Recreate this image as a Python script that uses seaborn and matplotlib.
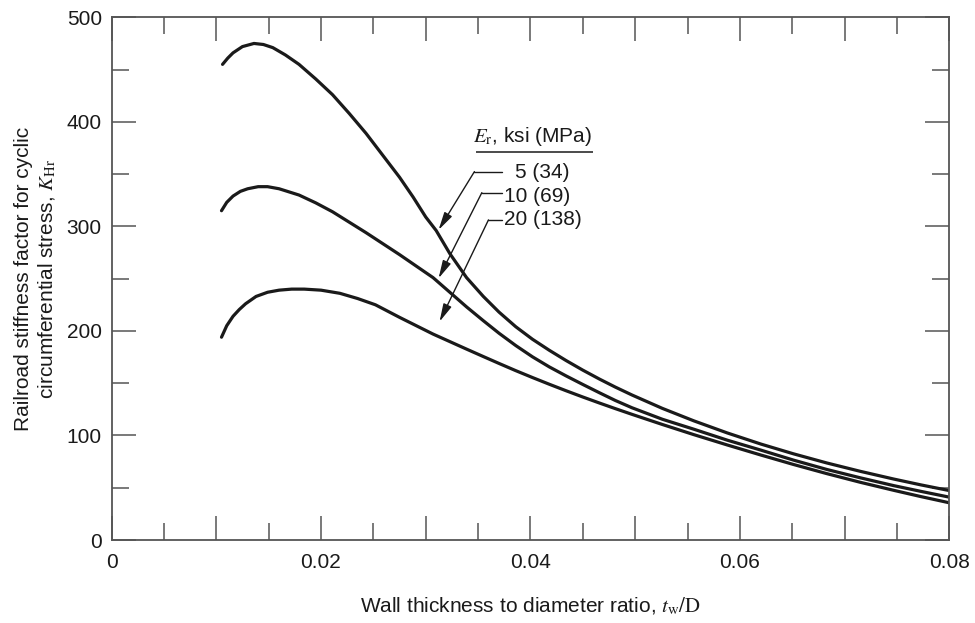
import matplotlib
matplotlib.use("Agg")
import matplotlib.pyplot as plt
from matplotlib.ticker import MultipleLocator, FuncFormatter
import numpy as np
import pandas as pd
import seaborn as sns

# ---------------- data ----------------
series_labels = ["5 (34)", "10 (69)", "20 (138)"]

x5 = [0.0106, 0.0111, 0.0116, 0.0125, 0.0136, 0.0145, 0.0154, 0.0166, 0.0179,
      0.0195, 0.0211, 0.0227, 0.0243, 0.0259, 0.0275, 0.0288, 0.0300, 0.0310,
      0.0323, 0.0339, 0.0355, 0.0370, 0.0386, 0.0402, 0.0418, 0.0434, 0.0450,
      0.0466, 0.0481, 0.0497, 0.0526, 0.0556, 0.0588, 0.0620, 0.0651, 0.0683,
      0.0715, 0.0747, 0.0773, 0.0800]
k5 = [455, 461, 466, 472, 475, 474, 471, 464, 455,
      441, 426, 408, 389, 368, 347, 328, 309, 296,
      274, 251, 233, 218, 204, 192, 181.5, 171.7, 162.5,
      153.9, 146.3, 138.7, 125.9, 114, 102.4, 91.8, 82.5, 73.7,
      65.7, 58.3, 52.7, 47.3]

x10 = [0.0105, 0.0110, 0.0116, 0.0123, 0.0130, 0.0140, 0.0149, 0.0160, 0.0179,
       0.0195, 0.0211, 0.0227, 0.0243, 0.0259, 0.0275, 0.0291, 0.0307, 0.0323,
       0.0339, 0.0355, 0.0370, 0.0386, 0.0402, 0.0418, 0.0434, 0.0450, 0.0466,
       0.0481, 0.0497, 0.0526, 0.0556, 0.0588, 0.0620, 0.0651, 0.0683, 0.0715,
       0.0747, 0.0773, 0.0800]
k10 = [315, 323, 329, 333.5, 336, 338, 338, 336, 330,
       322.5, 314, 304, 294, 283.5, 273, 262, 251, 237,
       223, 209.8, 197.8, 186, 175.2, 165.6, 157, 148.8, 140.8,
       133.5, 126.5, 115.5, 106, 95.5, 86, 76.5, 67.5, 59.5,
       52, 46.5, 41]

x20 = [0.0105, 0.0110, 0.0116, 0.0122, 0.0128, 0.0138, 0.0149, 0.0160, 0.0172,
       0.0184, 0.0200, 0.0218, 0.0235, 0.0252, 0.0275, 0.0291, 0.0307, 0.0323,
       0.0339, 0.0355, 0.0370, 0.0386, 0.0402, 0.0418, 0.0434, 0.0450, 0.0466,
       0.0481, 0.0497, 0.0526, 0.0556, 0.0588, 0.0620, 0.0651, 0.0683, 0.0715,
       0.0747, 0.0773, 0.0800]
k20 = [194, 205, 214, 220.5, 226, 233, 237, 239, 240,
       240, 239, 236, 231, 225, 213, 205, 197, 189.8,
       182.6, 175.5, 168.9, 162, 155.4, 149, 142.8, 136.8, 131,
       125.7, 120.2, 110.5, 100.8, 90.9, 81.3, 72.3, 63.5, 55.2,
       47.5, 41.5, 35.6]

x_tick_labels = ["0", "0.02", "0.04", "0.06", "0.08"]
y_tick_labels = ["0", "100", "200", "300", "400", "500"]

# ---------------- build table ----------------
df = pd.concat([
    pd.DataFrame({"x": x5, "k": k5, "E": series_labels[0]}),
    pd.DataFrame({"x": x10, "k": k10, "E": series_labels[1]}),
    pd.DataFrame({"x": x20, "k": k20, "E": series_labels[2]}),
], ignore_index=True)

sns.set_theme(style="ticks")
plt.rcParams["font.family"] = ["Liberation Sans", "DejaVu Sans"]
plt.rcParams["mathtext.fontset"] = "stix"

fig = plt.figure(figsize=(9.75, 6.23), dpi=100)
ax = fig.add_axes([0.1144, 0.1332, 0.8593, 0.8390])

line_color = "#1a1a1a"
sns.lineplot(data=df, x="x", y="k", hue="E", units="E", estimator=None, sort=False,
             palette=[line_color] * 3, linewidth=2.3, legend=False, ax=ax)
for ln in ax.get_lines():
    ln.set_solid_joinstyle("round")
    ln.set_solid_capstyle("round")

ax.set_xlim(0, 0.08)
ax.set_ylim(0, 500)

# ticks
ax.xaxis.set_major_locator(MultipleLocator(0.01))
ax.xaxis.set_minor_locator(MultipleLocator(0.005))
ax.yaxis.set_major_locator(MultipleLocator(100))
ax.yaxis.set_minor_locator(MultipleLocator(50))


def xfmt(v, pos):
    i = int(round(v / 0.02))
    if abs(v - i * 0.02) < 1e-9 and 0 <= i < len(x_tick_labels):
        return x_tick_labels[i]
    return ""


def yfmt(v, pos):
    i = int(round(v / 100))
    if 0 <= i < len(y_tick_labels):
        return y_tick_labels[i]
    return ""


ax.xaxis.set_major_formatter(FuncFormatter(xfmt))
ax.yaxis.set_major_formatter(FuncFormatter(yfmt))

tick_col = "#555555"
ax.tick_params(which="major", direction="in", length=17, width=1.1, color=tick_col,
               top=True, right=True, labelsize=15, labelcolor="#1a1a1a", pad=7)
ax.tick_params(which="minor", direction="in", length=12, width=1.1, color=tick_col,
               top=True, right=True)
ax.tick_params(axis="x", which="major", pad=9)

for s in ax.spines.values():
    s.set_visible(True)
    s.set_color("#555555")
    s.set_linewidth(1.3)

ax.set_xlabel(r"Wall thickness to diameter ratio, $t_{\mathrm{w}}/\mathrm{D}$",
              fontsize=15, color="#1a1a1a", labelpad=17)
ax.set_ylabel("Railroad stiffness factor for cyclic\ncircumferential stress, $K_{\\mathrm{Hr}}$",
              fontsize=15, color="#1a1a1a", labelpad=6, linespacing=1.25)

# ---------------- key with arrows ----------------
ax.text(0.0402, 386, r"$\mathit{E}_{\mathrm{r}}$, ksi (MPa)", fontsize=15,
        ha="center", va="center", color="#1a1a1a")
ax.plot([0.0348, 0.0460], [371.3, 371.3], color="#1a1a1a", lw=1.1, solid_capstyle="butt")

label_pos = [(0.03855, 351.2), (0.0375, 328.2), (0.0375, 306.2)]
for lab, (lx, ly) in zip(series_labels, label_pos):
    ax.text(lx, ly, lab, fontsize=15, ha="left", va="center", color="#1a1a1a")

arrow_paths = [
    ((0.03727, 352.4), (0.03465, 352.4), (0.03123, 296.7)),
    ((0.03727, 332.3), (0.03536, 332.3), (0.03123, 250.4)),
    ((0.03727, 306.2), (0.03599, 306.2), (0.03132, 208.9)),
]
for (p0, p1, tip) in arrow_paths:
    ax.plot([p0[0], p1[0]], [p0[1], p1[1]], color="#1a1a1a", lw=1.0)
    ax.annotate("", xy=tip, xytext=p1,
                arrowprops=dict(arrowstyle="-|>,head_length=0.9,head_width=0.22",
                                color="#1a1a1a", lw=1.0, shrinkA=0, shrinkB=0))

fig.savefig("out.png", dpi=100, facecolor="white")
